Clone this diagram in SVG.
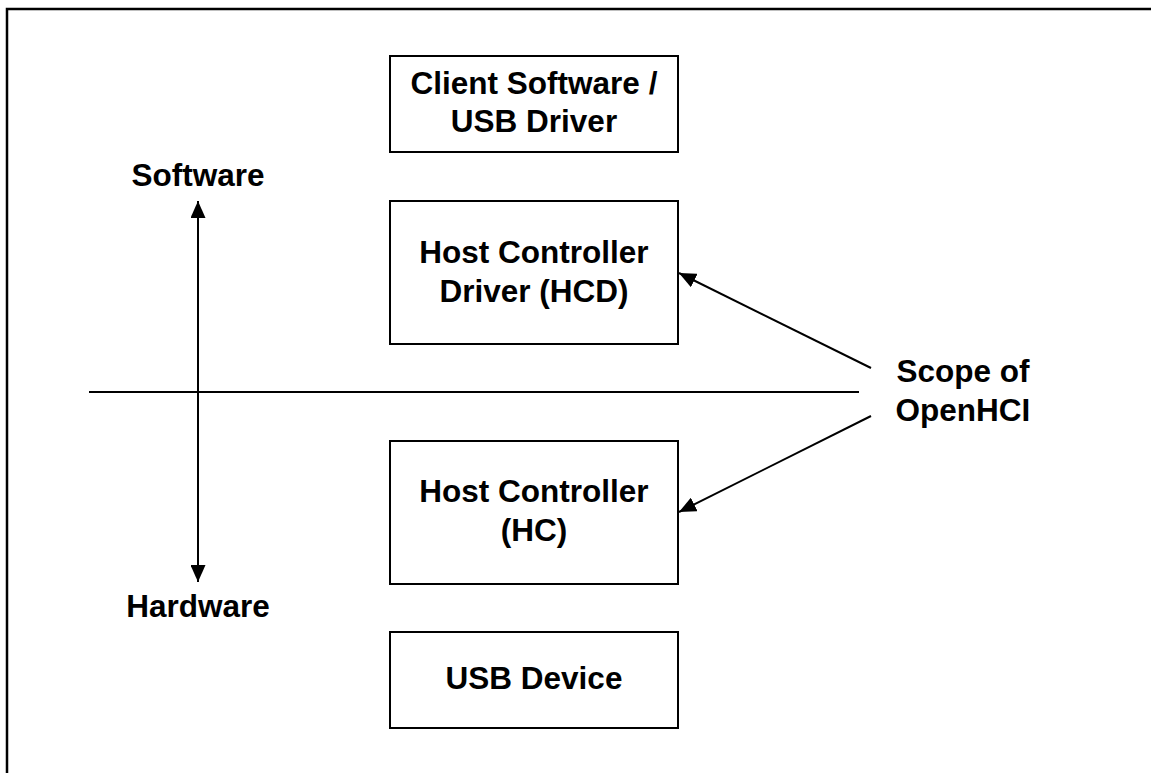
<svg xmlns="http://www.w3.org/2000/svg" width="1151" height="773" viewBox="0 0 1151 773">
<style>
.box{fill:#fff;stroke:#000;stroke-width:2}
.t{font-family:"Liberation Sans",Arial,sans-serif;font-weight:bold;font-size:31.5px;fill:#000;text-anchor:middle}
.ln{stroke:#000;stroke-width:2;fill:none}
</style>
<defs>
<marker id="ah" viewBox="0 0 17 15" refX="17" refY="7.5" markerWidth="17" markerHeight="15" markerUnits="userSpaceOnUse" orient="auto-start-reverse">
<path d="M0,0 L17,7.5 L0,15 Z" fill="#000"/>
</marker>
</defs>
<rect x="0" y="0" width="1151" height="773" fill="#fff"/>
<path d="M7,773 V9 H1151" fill="none" stroke="#000" stroke-width="2.5"/>
<g id="client">
<rect class="box" x="390" y="56" width="288" height="96"/>
<text class="t" x="534" y="94">Client Software /</text>
<text class="t" x="534" y="132">USB Driver</text>
</g>
<g id="hcd">
<rect class="box" x="390" y="201" width="288" height="143"/>
<text class="t" x="534" y="263">Host Controller</text>
<text class="t" x="534" y="302">Driver (HCD)</text>
</g>
<g id="hc">
<rect class="box" x="390" y="441" width="288" height="143"/>
<text class="t" x="534" y="502">Host Controller</text>
<text class="t" x="534" y="541">(HC)</text>
</g>
<g id="usbdev">
<rect class="box" x="390" y="632" width="288" height="96"/>
<text class="t" x="534" y="689">USB Device</text>
</g>
<g id="software"><text class="t" x="198" y="186">Software</text></g>
<g id="hardware"><text class="t" x="198" y="617">Hardware</text></g>
<g id="scope">
<text class="t" x="963" y="382">Scope of</text>
<text class="t" x="963" y="421">OpenHCI</text>
</g>
<g id="connectors">
<line class="ln" x1="89" y1="392" x2="859" y2="392"/>
<line class="ln" x1="198" y1="201" x2="198" y2="582" marker-start="url(#ah)" marker-end="url(#ah)"/>
<line class="ln" x1="871" y1="368" x2="679" y2="273" marker-end="url(#ah)"/>
<line class="ln" x1="871" y1="416" x2="679" y2="512" marker-end="url(#ah)"/>
</g>
</svg>
